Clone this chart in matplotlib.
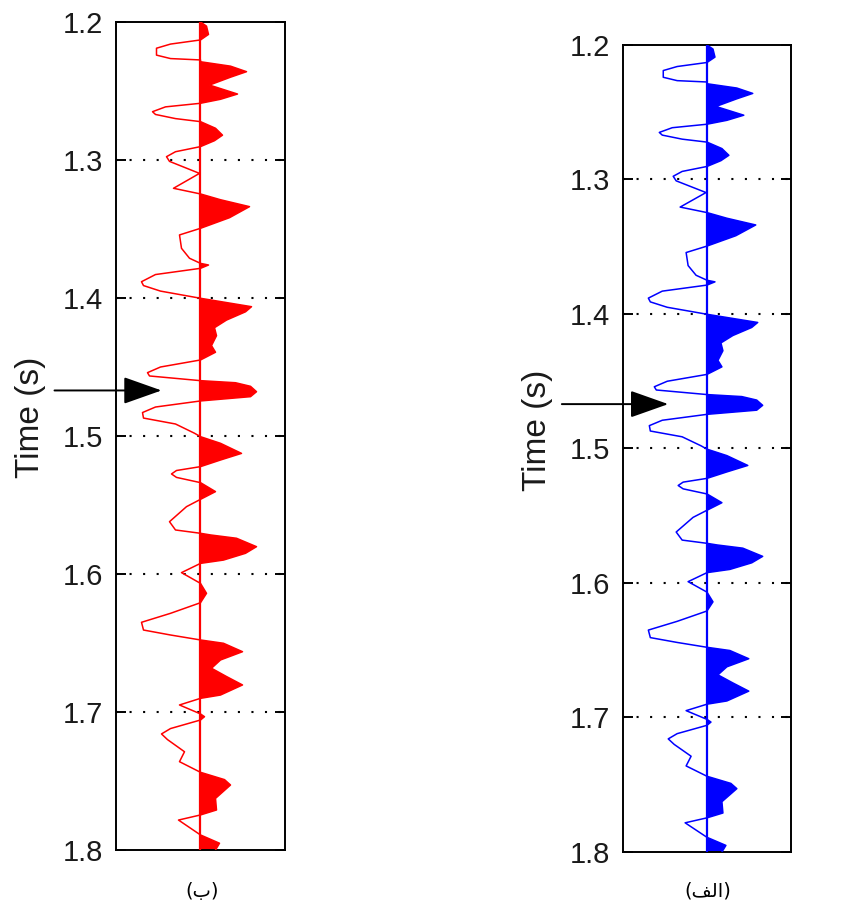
import matplotlib
matplotlib.use("Agg")
import matplotlib.pyplot as plt
import numpy as np

# trace samples: time (s) and amplitude (same units for both panels)
time = [1.200, 1.203, 1.209, 1.213, 1.216, 1.219, 1.224, 1.2265, 1.2275,
        1.2288, 1.2320, 1.236, 1.2400, 1.2457, 1.2522, 1.2560, 1.2589,
        1.2615, 1.265, 1.267, 1.2700, 1.2722,
        1.2770, 1.282, 1.2860, 1.2903,
        1.2940, 1.2976, 1.3010, 1.3097, 1.3205, 1.3246,
        1.3288, 1.3338, 1.3418, 1.3495,
        1.3543, 1.364, 1.3712, 1.3749, 1.3761, 1.3785,
        1.3830, 1.3882, 1.391, 1.3950, 1.4002,
        1.4063, 1.4100, 1.416, 1.4215, 1.4273, 1.4345, 1.4393, 1.4449,
        1.4500, 1.4541, 1.4565, 1.4599,
        1.4614, 1.4640, 1.4679, 1.4715, 1.4746,
        1.4790, 1.4830, 1.4870, 1.4913, 1.498, 1.5005,
        1.5053, 1.5126, 1.5174, 1.5222,
        1.5250, 1.5275, 1.5300, 1.5338,
        1.5403, 1.5459,
        1.5512, 1.5621, 1.5681, 1.5705,
        1.5717, 1.5741, 1.5802, 1.5850, 1.5899, 1.5923,
        1.5990, 1.6068,
        1.6140, 1.6208,
        1.6285, 1.6350, 1.6406, 1.6442, 1.6478,
        1.6502, 1.6563, 1.6623, 1.6683, 1.6743, 1.6804, 1.6877, 1.6901,
        1.6949, 1.7014, 1.7034, 1.7058,
        1.7120, 1.7159, 1.7200, 1.7288, 1.7360, 1.7437,
        1.7490, 1.7529, 1.7626, 1.7710, 1.7746,
        1.7783, 1.7891,
        1.7951, 1.8000]
amp = [0, 6, 8, 0, -30, -44, -44, -30, 0,
       0, 30, 46, 30, 9, 37, 20, 0,
       -35, -48, -45, -25, 0,
       15, 22, 14, 0,
       -25, -34, -31, -1, -27, 0,
       20, 49, 29, 0,
       -21, -19, -11, 0, 8, 0,
       -45, -59, -57, -40, 0,
       51, 45, 26, 14, 16, 11, 15, 0,
       -40, -53, -51, 0,
       35, 50, 56, 50, 0,
       -45, -58, -57, -25, -6, 0,
       20, 41, 20, 0,
       -24, -29, -24, 0,
       15, 0,
       -14, -31, -25, 0,
       10, 36, 56, 45, 23, 0,
       -19, 0,
       6, 0,
       -30, -59, -57, -30, 0,
       23, 42, 20, 11, 26, 42, 20, 0,
       -21, 0, 4, 0,
       -30, -39, -33, -16, -21, 0,
       24, 30, 15, 16, 0,
       -22, 0,
       19, 15]

yticks = [1.2, 1.3, 1.4, 1.5, 1.6, 1.7, 1.8]
arrow_time = 1.467
panel_colors = ["#ff0000", "#0000ff"]
panel_labels = ["(\uFE8F)", "(\uFED2\uFEDF\uFE8D)"]

t = np.array(time)
a = np.array(amp)

fig = plt.figure(figsize=(8.45, 9.16), dpi=100)
boxes = [[116 / 845, 66 / 916, 169 / 845, 828 / 916],
         [623 / 845, 64 / 916, 168 / 845, 807 / 916]]
label_x = [202 / 845, 708 / 845]

for box, col, lab, lx in zip(boxes, panel_colors, panel_labels, label_x):
    ax = fig.add_axes(box)
    for yy in yticks[1:-1]:
        ax.axhline(yy, color="black", lw=1.5, ls=(0, (1, 5.5)), zorder=1)
    ax.fill_betweenx(t, 0, a, where=a > 0, interpolate=True, color=col, lw=0, zorder=2)
    ax.plot(a, t, color=col, lw=1.1, zorder=3)
    ax.axvline(0, color=col, lw=1.6, zorder=3)
    ax.set_xlim(-84.5, 84.5)
    ax.set_ylim(1.8, 1.2)
    ax.set_xticks([])
    ax.set_yticks(yticks)
    ax.set_yticklabels([f"{v:.1f}" for v in yticks], family="Liberation Sans",
                       fontsize=21, color="#1a1a1a")
    ax.tick_params(axis="y", direction="in", length=7, width=1.4, right=True, pad=9)
    for s in ax.spines.values():
        s.set_linewidth(1.4)
    ax.set_ylabel("Time (s)", family="Liberation Sans", fontsize=24, color="#1a1a1a")
    ax.yaxis.set_label_coords(-0.415, 0.523)
    ax.annotate("", xy=(-39, arrow_time), xytext=(-146, arrow_time),
                arrowprops=dict(arrowstyle="-|>,head_length=2.4,head_width=0.85",
                                color="black", lw=1.4, mutation_scale=10,
                                shrinkA=0, shrinkB=0),
                annotation_clip=False)
    fig.text(lx, 1 - 891 / 916, lab, family="DejaVu Sans", fontsize=14,
             ha="center", va="center")

fig.savefig("out.png", dpi=100)
